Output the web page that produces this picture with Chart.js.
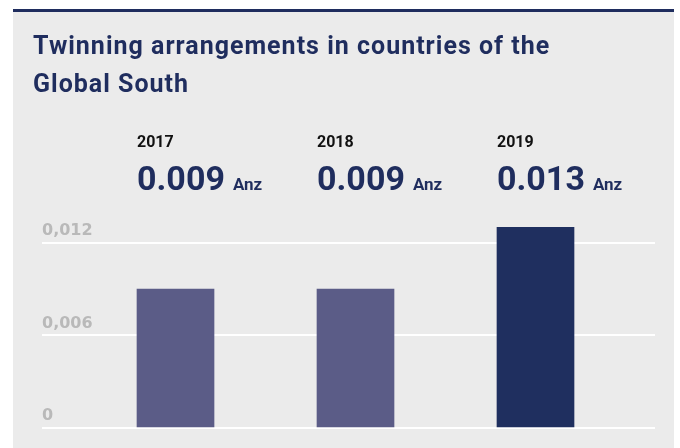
<!DOCTYPE html>
<html>
<head>
<meta charset="utf-8">
<script src="https://cdn.jsdelivr.net/npm/chart.js@4"></script>
<style>
  html, body { margin: 0; padding: 0; background: #fff; }
  #panel { position: absolute; left: 13px; top: 9px; width: 661px; height: 439px; background: #ebebeb; border-top: 3px solid #1f2d5e; }
  #wrap { position: absolute; left: 0; top: 0; width: 680px; height: 448px; }
</style>
</head>
<body>
<div id="panel"></div>
<div id="wrap"><canvas id="chart"></canvas></div>
<script>
const years = ['2017', '2018', '2019'];
const values = [0.009, 0.009, 0.013];
const valueLabels = ['0.009', '0.009', '0.013'];
const unit = 'Anz';
const barColors = ['#5b5c87', '#5b5c87', '#1f2f5f'];
const yTicks = [0, 0.006, 0.012];
const yTickLabels = ['0', '0,006', '0,012'];
const titleLines = ['Twinning arrangements in countries of the', 'Global South'];

const NAVY = '#1f2d5e';

// titel + jahres-/wertlabels über den balken
const headerPlugin = {
    id: 'header',
    afterDatasetsDraw(chart) {
        const ctx = chart.ctx;
        ctx.save();
        ctx.textAlign = 'left';
        ctx.textBaseline = 'alphabetic';
        ctx.fillStyle = NAVY;
        ctx.font = 'bold 25px Roboto';
        ctx.letterSpacing = '1px';
        titleLines.forEach((t, i) => ctx.fillText(t, 33, 54 + i * 38));
        ctx.letterSpacing = '0px';

        const meta = chart.getDatasetMeta(0);
        meta.data.forEach((bar, i) => {
            const x = bar.x - bar.width / 2;
            ctx.fillStyle = '#111';
            ctx.font = 'bold 16px Roboto';
            ctx.fillText(years[i], x, 147);
            ctx.fillStyle = NAVY;
            ctx.font = 'bold 34px Roboto';
            ctx.fillText(valueLabels[i], x, 190);
            const w = ctx.measureText(valueLabels[i]).width;
            ctx.font = 'bold 17px Roboto';
            ctx.fillText(unit, x + w + 8, 190);
        });
        ctx.restore();
    }
};

const ctx = document.getElementById('chart').getContext('2d');
new Chart(ctx, {
    type: 'bar',
    data: {
        datasets: [{
            data: values.map((v, i) => ({ x: i, y: v })),
            backgroundColor: barColors,
            barThickness: 77,
            borderWidth: 0
        }]
    },
    options: {
        responsive: true, maintainAspectRatio: false,
        animation: { duration: 0 },
        layout: { padding: { left: 42, right: 25, top: 212, bottom: 20 } },
        plugins: { legend: { display: false }, tooltip: { enabled: false } },
        scales: {
            x: {
                type: 'linear', display: false, offset: false,
                min: -0.7417, max: 2.6639
            },
            y: {
                min: 0, max: 0.014,
                afterBuildTicks: axis => { axis.ticks = yTicks.map(v => ({ value: v })); },
                border: { display: false },
                grid: { color: '#ffffff', lineWidth: 2, drawTicks: false },
                ticks: {
                    mirror: true, padding: 0, labelOffset: -12,
                    color: '#b9b9b9',
                    font: { family: 'DejaVu Sans', weight: 'bold', size: 16 },
                    callback: v => yTickLabels[yTicks.indexOf(v)]
                }
            }
        }
    },
    plugins: [headerPlugin]
});
</script>
</body>
</html>
